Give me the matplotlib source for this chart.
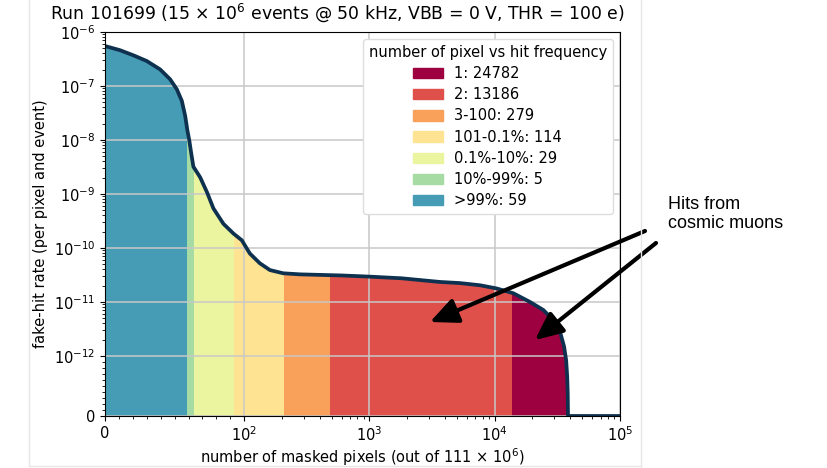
import matplotlib
matplotlib.use('Agg')
import matplotlib.pyplot as plt
import matplotlib.transforms as mtransforms
from matplotlib.patches import Patch, Rectangle, FancyArrowPatch
from matplotlib.lines import Line2D
import numpy as np

# pixel groups, left to right along the x axis
group_labels = ['>99%', '10%-99%', '0.1%-10%', '101-0.1%', '3-100', '2', '1']
group_counts = [59, 5, 29, 114, 279, 13186, 24782]
group_colors = ['#479cb5', '#a6dba3', '#ebf59f', '#fee392', '#f9a05b', '#e0504a', '#9e0140']

# remaining fake-hit rate vs number of masked pixels
masked = [0, 10.8, 20.4, 30, 39.6, 46.8, 51.6, 55.2, 57.6, 59.2,
          60.6, 61.8, 63.5, 68.3, 73.2, 77.9, 85.1, 92.3, 98.3, 101.3,
          111, 133.5, 160.6, 205, 279, 600, 1000, 1800, 3656, 5285,
          7640, 10380, 14090, 19140, 24450, 29380, 33230, 35780, 37150, 37900,
          38250, 38454, 100000]
rate = [5.5e-7, 4.6e-7, 3.7e-7, 2.9e-7, 2.03e-7, 1.33e-7, 8.7e-8, 5.3e-8, 2.8e-8, 1.5e-8,
        9.7e-9, 6.0e-9, 3.2e-9, 2.05e-9, 1.09e-9, 5.4e-10, 2.8e-10, 1.85e-10, 1.39e-10, 1.12e-10,
        7.9e-11, 5.2e-11, 3.9e-11, 3.4e-11, 3.25e-11, 3.1e-11, 2.95e-11, 2.75e-11, 2.35e-11, 2.24e-11,
        2.04e-11, 1.78e-11, 1.45e-11, 1.0e-11, 7.1e-12, 4.6e-12, 2.8e-12, 1.49e-12, 0.93e-12, 0.65e-12,
        0.38e-12, 0, 0]

fig = plt.figure(figsize=(8.28, 4.68), dpi=100)
ax = fig.add_axes([105/828, 1-416/468, 515/828, 384/468])
ax.set_xscale('symlog', linthresh=100, linscale=1)
ax.set_yscale('symlog', linthresh=1e-12, linscale=1)
ax.set_xlim(0, 1e5)
ax.set_ylim(0, 1e-6)

# coloured areas under the curve, one per group (clipped to its x range)
edges = np.concatenate([[0], np.cumsum(group_counts)])
blend = mtransforms.blended_transform_factory(ax.transData, ax.transAxes)
handles = []
for i, (lab, n, c) in enumerate(zip(group_labels, group_counts, group_colors)):
    poly = ax.fill_between(masked, rate, 0, color=c, lw=0, zorder=2)
    clip = Rectangle((edges[i], 0), edges[i+1]-edges[i], 1, transform=blend,
                     facecolor='none', edgecolor='none')
    ax.add_patch(clip)
    poly.set_clip_path(clip)
    handles.append(Patch(color=c, label=f'{lab}: {n}'))

ax.plot(masked, rate, color='#0e3150', lw=2.7, zorder=3,
        solid_capstyle='round', solid_joinstyle='round')

# ticks
ax.set_xticks([0, 1e2, 1e3, 1e4, 1e5])
ax.set_xticklabels(['0', r'$10^2$', r'$10^3$', r'$10^4$', r'$10^5$'])
yt = [0] + [10.0**e for e in range(-12, -5)]
ax.set_yticks(yt)
ax.set_yticklabels(['0'] + [rf'$10^{{{e}}}$' for e in range(-12, -5)])
xminor = [k*10 for k in range(1, 10)] + [k*10**d for d in (2, 3, 4) for k in range(2, 10)]
yminor = [k*1e-13 for k in range(1, 10)] + [k*10.0**d for d in range(-12, -6) for k in range(2, 10)]
ax.set_xticks(xminor, minor=True)
ax.set_yticks(yminor, minor=True)
ax.tick_params(labelsize=10.5)
ax.grid(True, which='major', color='#c8c8c8', lw=1.1, zorder=1)
ax.set_axisbelow(False)
for sp in ax.spines.values():
    sp.set_zorder(4)

ax.set_xlabel(r'number of masked pixels (out of 111 $\times$ 10$^6$)', fontsize=10.5, labelpad=1)
ax.set_ylabel('fake-hit rate (per pixel and event)', fontsize=10.5)
fig.text(337/828, 1-13/468,
         r'Run 101699 (15 $\times$ 10$^6$ events @ 50 kHz, VBB = 0 V, THR = 100 e)',
         ha='center', va='center', fontsize=12.4)

leg = ax.legend(handles=handles[::-1], loc='upper right',
                title='number of pixel vs hit frequency', fontsize=10.5,
                title_fontsize=10.5, framealpha=1, edgecolor='#dddddd',
                labelspacing=0.42)
leg.set_zorder(5)

# annotation outside the plot
fig.text(668/828, 1-214/468, 'Hits from\ncosmic muons', family='Liberation Sans',
         fontsize=13, ha='left', va='center', linespacing=1.15)
for tail, tip in [((645/828, 1-231/468), (430/828, 1-322/468)),
                  ((656/828, 1-243/468), (535/828, 1-340/468))]:
    fig.add_artist(FancyArrowPatch(
        tail, tip, transform=fig.transFigure,
        arrowstyle='-|>,head_length=1.2,head_width=0.55', mutation_scale=14,
        lw=3, color='black', shrinkA=0, shrinkB=0))

# faint frame of the pasted screenshot
for xs, ys in [([29/828, 641/828], [1-466/468, 1-466/468]),
               ([641/828, 641/828], [1-466/468, 1.0]),
               ([29/828, 29/828], [1-466/468, 1.0])]:
    fig.add_artist(Line2D(xs, ys, transform=fig.transFigure, color='#e6e6e6', lw=1))

fig.savefig('out.png', dpi=100)
